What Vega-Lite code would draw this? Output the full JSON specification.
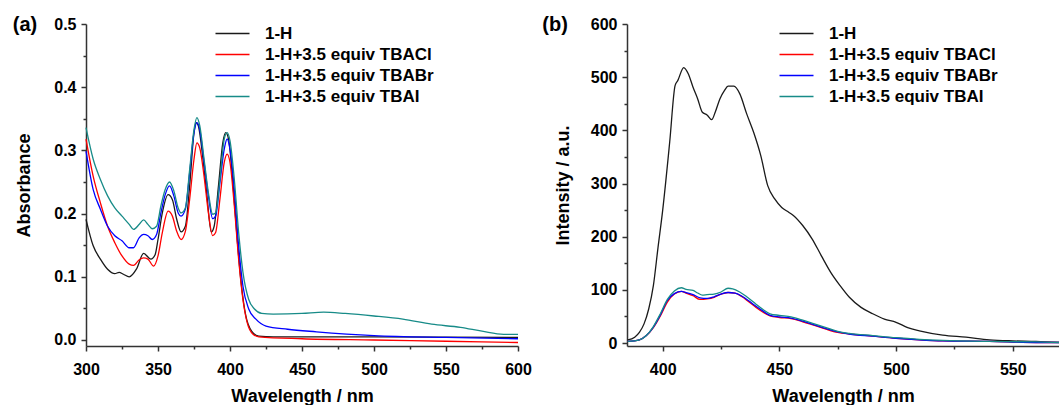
{
  "$schema": "https://vega.github.io/schema/vega-lite/v6.json",
  "padding": {"left": 12, "top": 15, "right": 0, "bottom": 0},
  "background": "white",
  "spacing": 109,
  "bounds": "flush",
  "resolve": {"scale": {"color": "independent"}},
  "config": {
    "view": {"stroke": null},
    "axis": {
      "domainColor": "#333333", "domainWidth": 1.5, "tickColor": "#333333", "tickWidth": 1.5,
      "labelFont": "Liberation Sans", "labelFontWeight": "bold", "labelFontSize": 16, "labelColor": "#000000",
      "titleFont": "Liberation Sans", "titleFontWeight": "bold", "titleFontSize": 18, "titleColor": "#000000",
      "grid": false, "labelPadding": 5
    },
    "legend": {
      "orient": "none", "title": null, "padding": 0, "symbolType": "M-2,0H2", "symbolSize": 289, "symbolStrokeWidth": 1.6,
      "labelFont": "Liberation Sans", "labelFontWeight": "bold", "labelFontSize": 17, "labelColor": "#000000",
      "labelOffset": 23, "rowPadding": 3, "labelLimit": 0
    },
    "title": {"font": "Liberation Sans", "fontWeight": "bold", "fontSize": 20, "color": "#000000", "anchor": "start", "frame": "bounds", "baseline": "alphabetic"}
  },
  "datasets": {
    "uv": [
      {"s": "1-H", "x": 300, "y": 0.191}, {"s": "1-H", "x": 305, "y": 0.149}, {"s": "1-H", "x": 310, "y": 0.128}, {"s": "1-H", "x": 315, "y": 0.112}, {"s": "1-H", "x": 320, "y": 0.105}, {"s": "1-H", "x": 323, "y": 0.107}, {"s": "1-H", "x": 326, "y": 0.104}, {"s": "1-H", "x": 330, "y": 0.100}, {"s": "1-H", "x": 335, "y": 0.112}, {"s": "1-H", "x": 340, "y": 0.137}, {"s": "1-H", "x": 345, "y": 0.128}, {"s": "1-H", "x": 348, "y": 0.135}, {"s": "1-H", "x": 350, "y": 0.159}, {"s": "1-H", "x": 353, "y": 0.201}, {"s": "1-H", "x": 357, "y": 0.230}, {"s": "1-H", "x": 360, "y": 0.222}, {"s": "1-H", "x": 363, "y": 0.191}, {"s": "1-H", "x": 366, "y": 0.171}, {"s": "1-H", "x": 369, "y": 0.180}, {"s": "1-H", "x": 372, "y": 0.244}, {"s": "1-H", "x": 375, "y": 0.328}, {"s": "1-H", "x": 376.5, "y": 0.344}, {"s": "1-H", "x": 378, "y": 0.339}, {"s": "1-H", "x": 381, "y": 0.291}, {"s": "1-H", "x": 384, "y": 0.228}, {"s": "1-H", "x": 387, "y": 0.171}, {"s": "1-H", "x": 389, "y": 0.180}, {"s": "1-H", "x": 392, "y": 0.244}, {"s": "1-H", "x": 395, "y": 0.312}, {"s": "1-H", "x": 397, "y": 0.328}, {"s": "1-H", "x": 399, "y": 0.318}, {"s": "1-H", "x": 402, "y": 0.249}, {"s": "1-H", "x": 405, "y": 0.159}, {"s": "1-H", "x": 408, "y": 0.085}, {"s": "1-H", "x": 411, "y": 0.038}, {"s": "1-H", "x": 415, "y": 0.014}, {"s": "1-H", "x": 420, "y": 0.006}, {"s": "1-H", "x": 430, "y": 0.005}, {"s": "1-H", "x": 500, "y": 0.005}, {"s": "1-H", "x": 600, "y": 0.004},
      {"s": "1-H+3.5 equiv TBACl", "x": 300, "y": 0.318}, {"s": "1-H+3.5 equiv TBACl", "x": 305, "y": 0.259}, {"s": "1-H+3.5 equiv TBACl", "x": 310, "y": 0.217}, {"s": "1-H+3.5 equiv TBACl", "x": 315, "y": 0.180}, {"s": "1-H+3.5 equiv TBACl", "x": 320, "y": 0.154}, {"s": "1-H+3.5 equiv TBACl", "x": 325, "y": 0.133}, {"s": "1-H+3.5 equiv TBACl", "x": 330, "y": 0.120}, {"s": "1-H+3.5 equiv TBACl", "x": 333, "y": 0.118}, {"s": "1-H+3.5 equiv TBACl", "x": 337, "y": 0.127}, {"s": "1-H+3.5 equiv TBACl", "x": 340, "y": 0.130}, {"s": "1-H+3.5 equiv TBACl", "x": 343, "y": 0.128}, {"s": "1-H+3.5 equiv TBACl", "x": 347, "y": 0.117}, {"s": "1-H+3.5 equiv TBACl", "x": 350, "y": 0.133}, {"s": "1-H+3.5 equiv TBACl", "x": 353, "y": 0.170}, {"s": "1-H+3.5 equiv TBACl", "x": 357, "y": 0.204}, {"s": "1-H+3.5 equiv TBACl", "x": 360, "y": 0.196}, {"s": "1-H+3.5 equiv TBACl", "x": 363, "y": 0.172}, {"s": "1-H+3.5 equiv TBACl", "x": 366, "y": 0.159}, {"s": "1-H+3.5 equiv TBACl", "x": 369, "y": 0.172}, {"s": "1-H+3.5 equiv TBACl", "x": 372, "y": 0.223}, {"s": "1-H+3.5 equiv TBACl", "x": 375, "y": 0.286}, {"s": "1-H+3.5 equiv TBACl", "x": 377, "y": 0.312}, {"s": "1-H+3.5 equiv TBACl", "x": 379, "y": 0.304}, {"s": "1-H+3.5 equiv TBACl", "x": 382, "y": 0.259}, {"s": "1-H+3.5 equiv TBACl", "x": 385, "y": 0.201}, {"s": "1-H+3.5 equiv TBACl", "x": 388, "y": 0.165}, {"s": "1-H+3.5 equiv TBACl", "x": 390, "y": 0.170}, {"s": "1-H+3.5 equiv TBACl", "x": 393, "y": 0.223}, {"s": "1-H+3.5 equiv TBACl", "x": 396, "y": 0.281}, {"s": "1-H+3.5 equiv TBACl", "x": 398, "y": 0.294}, {"s": "1-H+3.5 equiv TBACl", "x": 400, "y": 0.281}, {"s": "1-H+3.5 equiv TBACl", "x": 403, "y": 0.212}, {"s": "1-H+3.5 equiv TBACl", "x": 406, "y": 0.128}, {"s": "1-H+3.5 equiv TBACl", "x": 409, "y": 0.064}, {"s": "1-H+3.5 equiv TBACl", "x": 412, "y": 0.027}, {"s": "1-H+3.5 equiv TBACl", "x": 416, "y": 0.009}, {"s": "1-H+3.5 equiv TBACl", "x": 420, "y": 0.005}, {"s": "1-H+3.5 equiv TBACl", "x": 450, "y": 0.002}, {"s": "1-H+3.5 equiv TBACl", "x": 500, "y": 0.000}, {"s": "1-H+3.5 equiv TBACl", "x": 550, "y": -0.002}, {"s": "1-H+3.5 equiv TBACl", "x": 600, "y": -0.004},
      {"s": "1-H+3.5 equiv TBABr", "x": 300, "y": 0.299}, {"s": "1-H+3.5 equiv TBABr", "x": 305, "y": 0.238}, {"s": "1-H+3.5 equiv TBABr", "x": 310, "y": 0.207}, {"s": "1-H+3.5 equiv TBABr", "x": 315, "y": 0.180}, {"s": "1-H+3.5 equiv TBABr", "x": 320, "y": 0.165}, {"s": "1-H+3.5 equiv TBABr", "x": 325, "y": 0.157}, {"s": "1-H+3.5 equiv TBABr", "x": 330, "y": 0.146}, {"s": "1-H+3.5 equiv TBABr", "x": 333, "y": 0.146}, {"s": "1-H+3.5 equiv TBABr", "x": 337, "y": 0.162}, {"s": "1-H+3.5 equiv TBABr", "x": 340, "y": 0.167}, {"s": "1-H+3.5 equiv TBABr", "x": 343, "y": 0.165}, {"s": "1-H+3.5 equiv TBABr", "x": 346, "y": 0.159}, {"s": "1-H+3.5 equiv TBABr", "x": 349, "y": 0.167}, {"s": "1-H+3.5 equiv TBABr", "x": 352, "y": 0.201}, {"s": "1-H+3.5 equiv TBABr", "x": 355, "y": 0.230}, {"s": "1-H+3.5 equiv TBABr", "x": 358, "y": 0.244}, {"s": "1-H+3.5 equiv TBABr", "x": 361, "y": 0.228}, {"s": "1-H+3.5 equiv TBABr", "x": 364, "y": 0.201}, {"s": "1-H+3.5 equiv TBABr", "x": 366, "y": 0.196}, {"s": "1-H+3.5 equiv TBABr", "x": 369, "y": 0.207}, {"s": "1-H+3.5 equiv TBABr", "x": 372, "y": 0.265}, {"s": "1-H+3.5 equiv TBABr", "x": 375, "y": 0.328}, {"s": "1-H+3.5 equiv TBABr", "x": 377, "y": 0.344}, {"s": "1-H+3.5 equiv TBABr", "x": 379, "y": 0.333}, {"s": "1-H+3.5 equiv TBABr", "x": 382, "y": 0.281}, {"s": "1-H+3.5 equiv TBABr", "x": 385, "y": 0.228}, {"s": "1-H+3.5 equiv TBABr", "x": 388, "y": 0.192}, {"s": "1-H+3.5 equiv TBABr", "x": 390, "y": 0.196}, {"s": "1-H+3.5 equiv TBABr", "x": 393, "y": 0.249}, {"s": "1-H+3.5 equiv TBABr", "x": 396, "y": 0.302}, {"s": "1-H+3.5 equiv TBABr", "x": 398, "y": 0.318}, {"s": "1-H+3.5 equiv TBABr", "x": 400, "y": 0.302}, {"s": "1-H+3.5 equiv TBABr", "x": 403, "y": 0.238}, {"s": "1-H+3.5 equiv TBABr", "x": 406, "y": 0.149}, {"s": "1-H+3.5 equiv TBABr", "x": 409, "y": 0.085}, {"s": "1-H+3.5 equiv TBABr", "x": 413, "y": 0.049}, {"s": "1-H+3.5 equiv TBABr", "x": 418, "y": 0.033}, {"s": "1-H+3.5 equiv TBABr", "x": 425, "y": 0.022}, {"s": "1-H+3.5 equiv TBABr", "x": 440, "y": 0.017}, {"s": "1-H+3.5 equiv TBABr", "x": 460, "y": 0.013}, {"s": "1-H+3.5 equiv TBABr", "x": 500, "y": 0.007}, {"s": "1-H+3.5 equiv TBABr", "x": 550, "y": 0.004}, {"s": "1-H+3.5 equiv TBABr", "x": 600, "y": 0.002},
      {"s": "1-H+3.5 equiv TBAI", "x": 300, "y": 0.336}, {"s": "1-H+3.5 equiv TBAI", "x": 305, "y": 0.286}, {"s": "1-H+3.5 equiv TBAI", "x": 310, "y": 0.254}, {"s": "1-H+3.5 equiv TBAI", "x": 315, "y": 0.228}, {"s": "1-H+3.5 equiv TBAI", "x": 320, "y": 0.209}, {"s": "1-H+3.5 equiv TBAI", "x": 325, "y": 0.196}, {"s": "1-H+3.5 equiv TBAI", "x": 330, "y": 0.183}, {"s": "1-H+3.5 equiv TBAI", "x": 333, "y": 0.175}, {"s": "1-H+3.5 equiv TBAI", "x": 337, "y": 0.183}, {"s": "1-H+3.5 equiv TBAI", "x": 340, "y": 0.190}, {"s": "1-H+3.5 equiv TBAI", "x": 343, "y": 0.183}, {"s": "1-H+3.5 equiv TBAI", "x": 346, "y": 0.176}, {"s": "1-H+3.5 equiv TBAI", "x": 349, "y": 0.180}, {"s": "1-H+3.5 equiv TBAI", "x": 352, "y": 0.212}, {"s": "1-H+3.5 equiv TBAI", "x": 355, "y": 0.238}, {"s": "1-H+3.5 equiv TBAI", "x": 358, "y": 0.250}, {"s": "1-H+3.5 equiv TBAI", "x": 361, "y": 0.236}, {"s": "1-H+3.5 equiv TBAI", "x": 364, "y": 0.209}, {"s": "1-H+3.5 equiv TBAI", "x": 366, "y": 0.201}, {"s": "1-H+3.5 equiv TBAI", "x": 369, "y": 0.209}, {"s": "1-H+3.5 equiv TBAI", "x": 372, "y": 0.270}, {"s": "1-H+3.5 equiv TBAI", "x": 375, "y": 0.333}, {"s": "1-H+3.5 equiv TBAI", "x": 377, "y": 0.352}, {"s": "1-H+3.5 equiv TBAI", "x": 379, "y": 0.339}, {"s": "1-H+3.5 equiv TBAI", "x": 382, "y": 0.286}, {"s": "1-H+3.5 equiv TBAI", "x": 385, "y": 0.233}, {"s": "1-H+3.5 equiv TBAI", "x": 388, "y": 0.199}, {"s": "1-H+3.5 equiv TBAI", "x": 390, "y": 0.201}, {"s": "1-H+3.5 equiv TBAI", "x": 393, "y": 0.254}, {"s": "1-H+3.5 equiv TBAI", "x": 396, "y": 0.318}, {"s": "1-H+3.5 equiv TBAI", "x": 398, "y": 0.328}, {"s": "1-H+3.5 equiv TBAI", "x": 400, "y": 0.315}, {"s": "1-H+3.5 equiv TBAI", "x": 403, "y": 0.254}, {"s": "1-H+3.5 equiv TBAI", "x": 406, "y": 0.170}, {"s": "1-H+3.5 equiv TBAI", "x": 409, "y": 0.107}, {"s": "1-H+3.5 equiv TBAI", "x": 413, "y": 0.064}, {"s": "1-H+3.5 equiv TBAI", "x": 417, "y": 0.049}, {"s": "1-H+3.5 equiv TBAI", "x": 422, "y": 0.042}, {"s": "1-H+3.5 equiv TBAI", "x": 430, "y": 0.041}, {"s": "1-H+3.5 equiv TBAI", "x": 450, "y": 0.042}, {"s": "1-H+3.5 equiv TBAI", "x": 465, "y": 0.044}, {"s": "1-H+3.5 equiv TBAI", "x": 480, "y": 0.042}, {"s": "1-H+3.5 equiv TBAI", "x": 500, "y": 0.038}, {"s": "1-H+3.5 equiv TBAI", "x": 520, "y": 0.033}, {"s": "1-H+3.5 equiv TBAI", "x": 540, "y": 0.025}, {"s": "1-H+3.5 equiv TBAI", "x": 560, "y": 0.020}, {"s": "1-H+3.5 equiv TBAI", "x": 575, "y": 0.014}, {"s": "1-H+3.5 equiv TBAI", "x": 590, "y": 0.009}, {"s": "1-H+3.5 equiv TBAI", "x": 600, "y": 0.009}
    ],
    "pl": [
      {"s": "1-H", "x": 385, "y": 6}, {"s": "1-H", "x": 388, "y": 11}, {"s": "1-H", "x": 390, "y": 20}, {"s": "1-H", "x": 392, "y": 36}, {"s": "1-H", "x": 394, "y": 64}, {"s": "1-H", "x": 396, "y": 108}, {"s": "1-H", "x": 398, "y": 180}, {"s": "1-H", "x": 400, "y": 250}, {"s": "1-H", "x": 403, "y": 378}, {"s": "1-H", "x": 405.3, "y": 484}, {"s": "1-H", "x": 406.5, "y": 494}, {"s": "1-H", "x": 409, "y": 518}, {"s": "1-H", "x": 411, "y": 506}, {"s": "1-H", "x": 413, "y": 481}, {"s": "1-H", "x": 415, "y": 459}, {"s": "1-H", "x": 417, "y": 434}, {"s": "1-H", "x": 419, "y": 429}, {"s": "1-H", "x": 421, "y": 420}, {"s": "1-H", "x": 422.5, "y": 434}, {"s": "1-H", "x": 424.5, "y": 459}, {"s": "1-H", "x": 426.5, "y": 475}, {"s": "1-H", "x": 428, "y": 483}, {"s": "1-H", "x": 430.5, "y": 483}, {"s": "1-H", "x": 433, "y": 469}, {"s": "1-H", "x": 436, "y": 431}, {"s": "1-H", "x": 439, "y": 396}, {"s": "1-H", "x": 442, "y": 353}, {"s": "1-H", "x": 445, "y": 296}, {"s": "1-H", "x": 448, "y": 271}, {"s": "1-H", "x": 451, "y": 255}, {"s": "1-H", "x": 454, "y": 246}, {"s": "1-H", "x": 456, "y": 240}, {"s": "1-H", "x": 460, "y": 221}, {"s": "1-H", "x": 464, "y": 196}, {"s": "1-H", "x": 468, "y": 164}, {"s": "1-H", "x": 472, "y": 133}, {"s": "1-H", "x": 476, "y": 108}, {"s": "1-H", "x": 480, "y": 86}, {"s": "1-H", "x": 485, "y": 67}, {"s": "1-H", "x": 490, "y": 55}, {"s": "1-H", "x": 495, "y": 45}, {"s": "1-H", "x": 500, "y": 39}, {"s": "1-H", "x": 505, "y": 29}, {"s": "1-H", "x": 510, "y": 23}, {"s": "1-H", "x": 520, "y": 15}, {"s": "1-H", "x": 530, "y": 11}, {"s": "1-H", "x": 540, "y": 6}, {"s": "1-H", "x": 550, "y": 4}, {"s": "1-H", "x": 560, "y": 3}, {"s": "1-H", "x": 570, "y": 1},
      {"s": "1-H+3.5 equiv TBACl", "x": 385, "y": 3}, {"s": "1-H+3.5 equiv TBACl", "x": 390, "y": 6}, {"s": "1-H+3.5 equiv TBACl", "x": 393, "y": 14}, {"s": "1-H+3.5 equiv TBACl", "x": 396, "y": 29}, {"s": "1-H+3.5 equiv TBACl", "x": 399, "y": 51}, {"s": "1-H+3.5 equiv TBACl", "x": 402, "y": 77}, {"s": "1-H+3.5 equiv TBACl", "x": 405, "y": 92}, {"s": "1-H+3.5 equiv TBACl", "x": 408, "y": 97}, {"s": "1-H+3.5 equiv TBACl", "x": 410, "y": 94}, {"s": "1-H+3.5 equiv TBACl", "x": 413, "y": 89}, {"s": "1-H+3.5 equiv TBACl", "x": 416, "y": 82}, {"s": "1-H+3.5 equiv TBACl", "x": 419, "y": 83}, {"s": "1-H+3.5 equiv TBACl", "x": 422, "y": 86}, {"s": "1-H+3.5 equiv TBACl", "x": 425, "y": 92}, {"s": "1-H+3.5 equiv TBACl", "x": 428, "y": 95}, {"s": "1-H+3.5 equiv TBACl", "x": 431, "y": 94}, {"s": "1-H+3.5 equiv TBACl", "x": 434, "y": 87}, {"s": "1-H+3.5 equiv TBACl", "x": 437, "y": 77}, {"s": "1-H+3.5 equiv TBACl", "x": 440, "y": 67}, {"s": "1-H+3.5 equiv TBACl", "x": 443, "y": 58}, {"s": "1-H+3.5 equiv TBACl", "x": 446, "y": 51}, {"s": "1-H+3.5 equiv TBACl", "x": 450, "y": 48}, {"s": "1-H+3.5 equiv TBACl", "x": 455, "y": 46}, {"s": "1-H+3.5 equiv TBACl", "x": 460, "y": 40}, {"s": "1-H+3.5 equiv TBACl", "x": 465, "y": 33}, {"s": "1-H+3.5 equiv TBACl", "x": 470, "y": 26}, {"s": "1-H+3.5 equiv TBACl", "x": 475, "y": 20}, {"s": "1-H+3.5 equiv TBACl", "x": 480, "y": 17}, {"s": "1-H+3.5 equiv TBACl", "x": 490, "y": 13}, {"s": "1-H+3.5 equiv TBACl", "x": 500, "y": 9}, {"s": "1-H+3.5 equiv TBACl", "x": 510, "y": 6}, {"s": "1-H+3.5 equiv TBACl", "x": 520, "y": 4}, {"s": "1-H+3.5 equiv TBACl", "x": 540, "y": 3}, {"s": "1-H+3.5 equiv TBACl", "x": 560, "y": 1}, {"s": "1-H+3.5 equiv TBACl", "x": 570, "y": 1},
      {"s": "1-H+3.5 equiv TBABr", "x": 385, "y": 3}, {"s": "1-H+3.5 equiv TBABr", "x": 390, "y": 6}, {"s": "1-H+3.5 equiv TBABr", "x": 393, "y": 14}, {"s": "1-H+3.5 equiv TBABr", "x": 396, "y": 30}, {"s": "1-H+3.5 equiv TBABr", "x": 399, "y": 53}, {"s": "1-H+3.5 equiv TBABr", "x": 402, "y": 80}, {"s": "1-H+3.5 equiv TBABr", "x": 405, "y": 93}, {"s": "1-H+3.5 equiv TBABr", "x": 408, "y": 97}, {"s": "1-H+3.5 equiv TBABr", "x": 410, "y": 95}, {"s": "1-H+3.5 equiv TBABr", "x": 413, "y": 91}, {"s": "1-H+3.5 equiv TBABr", "x": 416, "y": 85}, {"s": "1-H+3.5 equiv TBABr", "x": 419, "y": 84}, {"s": "1-H+3.5 equiv TBABr", "x": 422, "y": 87}, {"s": "1-H+3.5 equiv TBABr", "x": 425, "y": 92}, {"s": "1-H+3.5 equiv TBABr", "x": 428, "y": 95}, {"s": "1-H+3.5 equiv TBABr", "x": 431, "y": 94}, {"s": "1-H+3.5 equiv TBABr", "x": 434, "y": 88}, {"s": "1-H+3.5 equiv TBABr", "x": 437, "y": 79}, {"s": "1-H+3.5 equiv TBABr", "x": 440, "y": 69}, {"s": "1-H+3.5 equiv TBABr", "x": 443, "y": 60}, {"s": "1-H+3.5 equiv TBABr", "x": 446, "y": 52}, {"s": "1-H+3.5 equiv TBABr", "x": 450, "y": 49}, {"s": "1-H+3.5 equiv TBABr", "x": 455, "y": 47}, {"s": "1-H+3.5 equiv TBABr", "x": 460, "y": 41}, {"s": "1-H+3.5 equiv TBABr", "x": 465, "y": 34}, {"s": "1-H+3.5 equiv TBABr", "x": 470, "y": 27}, {"s": "1-H+3.5 equiv TBABr", "x": 475, "y": 21}, {"s": "1-H+3.5 equiv TBABr", "x": 480, "y": 17}, {"s": "1-H+3.5 equiv TBABr", "x": 490, "y": 13}, {"s": "1-H+3.5 equiv TBABr", "x": 500, "y": 9}, {"s": "1-H+3.5 equiv TBABr", "x": 510, "y": 6}, {"s": "1-H+3.5 equiv TBABr", "x": 520, "y": 4}, {"s": "1-H+3.5 equiv TBABr", "x": 540, "y": 3}, {"s": "1-H+3.5 equiv TBABr", "x": 560, "y": 1}, {"s": "1-H+3.5 equiv TBABr", "x": 570, "y": 1},
      {"s": "1-H+3.5 equiv TBAI", "x": 385, "y": 3}, {"s": "1-H+3.5 equiv TBAI", "x": 390, "y": 6}, {"s": "1-H+3.5 equiv TBAI", "x": 393, "y": 14}, {"s": "1-H+3.5 equiv TBAI", "x": 396, "y": 31}, {"s": "1-H+3.5 equiv TBAI", "x": 399, "y": 55}, {"s": "1-H+3.5 equiv TBAI", "x": 402, "y": 82}, {"s": "1-H+3.5 equiv TBAI", "x": 405, "y": 98}, {"s": "1-H+3.5 equiv TBAI", "x": 408, "y": 104}, {"s": "1-H+3.5 equiv TBAI", "x": 410, "y": 101}, {"s": "1-H+3.5 equiv TBAI", "x": 413, "y": 99}, {"s": "1-H+3.5 equiv TBAI", "x": 415, "y": 94}, {"s": "1-H+3.5 equiv TBAI", "x": 417, "y": 90}, {"s": "1-H+3.5 equiv TBAI", "x": 419, "y": 91}, {"s": "1-H+3.5 equiv TBAI", "x": 422, "y": 92}, {"s": "1-H+3.5 equiv TBAI", "x": 425, "y": 96}, {"s": "1-H+3.5 equiv TBAI", "x": 428, "y": 103}, {"s": "1-H+3.5 equiv TBAI", "x": 430, "y": 102}, {"s": "1-H+3.5 equiv TBAI", "x": 433, "y": 96}, {"s": "1-H+3.5 equiv TBAI", "x": 436, "y": 87}, {"s": "1-H+3.5 equiv TBAI", "x": 440, "y": 73}, {"s": "1-H+3.5 equiv TBAI", "x": 443, "y": 63}, {"s": "1-H+3.5 equiv TBAI", "x": 446, "y": 55}, {"s": "1-H+3.5 equiv TBAI", "x": 450, "y": 52}, {"s": "1-H+3.5 equiv TBAI", "x": 455, "y": 49}, {"s": "1-H+3.5 equiv TBAI", "x": 460, "y": 43}, {"s": "1-H+3.5 equiv TBAI", "x": 465, "y": 36}, {"s": "1-H+3.5 equiv TBAI", "x": 470, "y": 29}, {"s": "1-H+3.5 equiv TBAI", "x": 475, "y": 22}, {"s": "1-H+3.5 equiv TBAI", "x": 480, "y": 18}, {"s": "1-H+3.5 equiv TBAI", "x": 490, "y": 14}, {"s": "1-H+3.5 equiv TBAI", "x": 500, "y": 10}, {"s": "1-H+3.5 equiv TBAI", "x": 510, "y": 7}, {"s": "1-H+3.5 equiv TBAI", "x": 520, "y": 5}, {"s": "1-H+3.5 equiv TBAI", "x": 540, "y": 3}, {"s": "1-H+3.5 equiv TBAI", "x": 560, "y": 2}, {"s": "1-H+3.5 equiv TBAI", "x": 570, "y": 1}
    ]
  },
  "hconcat": [
    {
      "width": 432, "height": 322,
      "title": {"text": "(a)", "offset": -19, "dx": -3},
      "data": {"name": "uv"},
      "mark": {"type": "line", "strokeWidth": 1.3, "interpolate": "monotone"},
      "encoding": {
        "x": {"field": "x", "type": "quantitative", "scale": {"domain": [300, 600], "nice": false, "zero": false},
          "axis": {"title": "Wavelength / nm", "values": [300, 325, 350, 375, 400, 425, 450, 475, 500, 525, 550, 575, 600],
            "labelExpr": "datum.value % 50 === 0 ? datum.label : ''",
            "tickSize": {"condition": {"test": "datum.value % 50 !== 0", "value": 3}, "value": 5},
            "labelPadding": 10, "titlePadding": 10, "labelFlush": false, "labelOverlap": false}},
        "y": {"field": "y", "type": "quantitative", "scale": {"domain": [-0.0095, 0.5], "nice": false, "zero": false},
          "axis": {"title": "Absorbance", "values": [0, 0.05, 0.1, 0.15, 0.2, 0.25, 0.3, 0.35, 0.4, 0.45, 0.5],
            "labelExpr": "round(datum.value * 100) % 10 === 0 ? format(datum.value, '.1f') : ''",
            "tickSize": {"condition": {"test": "round(datum.value * 100) % 10 !== 0", "value": 3}, "value": 5},
            "titlePadding": 20, "labelFlush": false, "labelOverlap": false}},
        "color": {"field": "s", "type": "nominal",
          "scale": {"domain": ["1-H", "1-H+3.5 equiv TBACl", "1-H+3.5 equiv TBABr", "1-H+3.5 equiv TBAI"], "range": ["#1a1a1a", "#ff0000", "#0000ff", "#178b88"]},
          "legend": {"legendX": 137, "legendY": 0}}
      }
    },
    {
      "width": 432.4, "height": 322,
      "title": {"text": "(b)", "offset": -19, "dx": -12},
      "data": {"name": "pl"},
      "mark": {"type": "line", "strokeWidth": 1.3, "interpolate": "monotone"},
      "encoding": {
        "x": {"field": "x", "type": "quantitative", "scale": {"domain": [384.7, 570], "nice": false, "zero": false},
          "axis": {"title": "Wavelength / nm", "values": [400, 425, 450, 475, 500, 525, 550],
            "labelExpr": "datum.value % 50 === 0 ? datum.label : ''",
            "tickSize": {"condition": {"test": "datum.value % 50 !== 0", "value": 3}, "value": 5},
            "labelPadding": 10, "titlePadding": 10, "titleX": 216, "labelFlush": false, "labelOverlap": false}},
        "y": {"field": "y", "type": "quantitative", "scale": {"domain": [-5.6, 600], "nice": false, "zero": false},
          "axis": {"title": "Intensity / a.u.", "values": [0, 50, 100, 150, 200, 250, 300, 350, 400, 450, 500, 550, 600],
            "labelExpr": "datum.value % 100 === 0 ? datum.label : ''",
            "tickSize": {"condition": {"test": "datum.value % 100 !== 0", "value": 3}, "value": 5},
            "titlePadding": 18, "labelFlush": false, "labelOverlap": false}},
        "color": {"field": "s", "type": "nominal",
          "scale": {"domain": ["1-H", "1-H+3.5 equiv TBACl", "1-H+3.5 equiv TBABr", "1-H+3.5 equiv TBAI"], "range": ["#1a1a1a", "#ff0000", "#0000ff", "#178b88"]},
          "legend": {"legendX": 160, "legendY": 0}}
      }
    }
  ]
}
